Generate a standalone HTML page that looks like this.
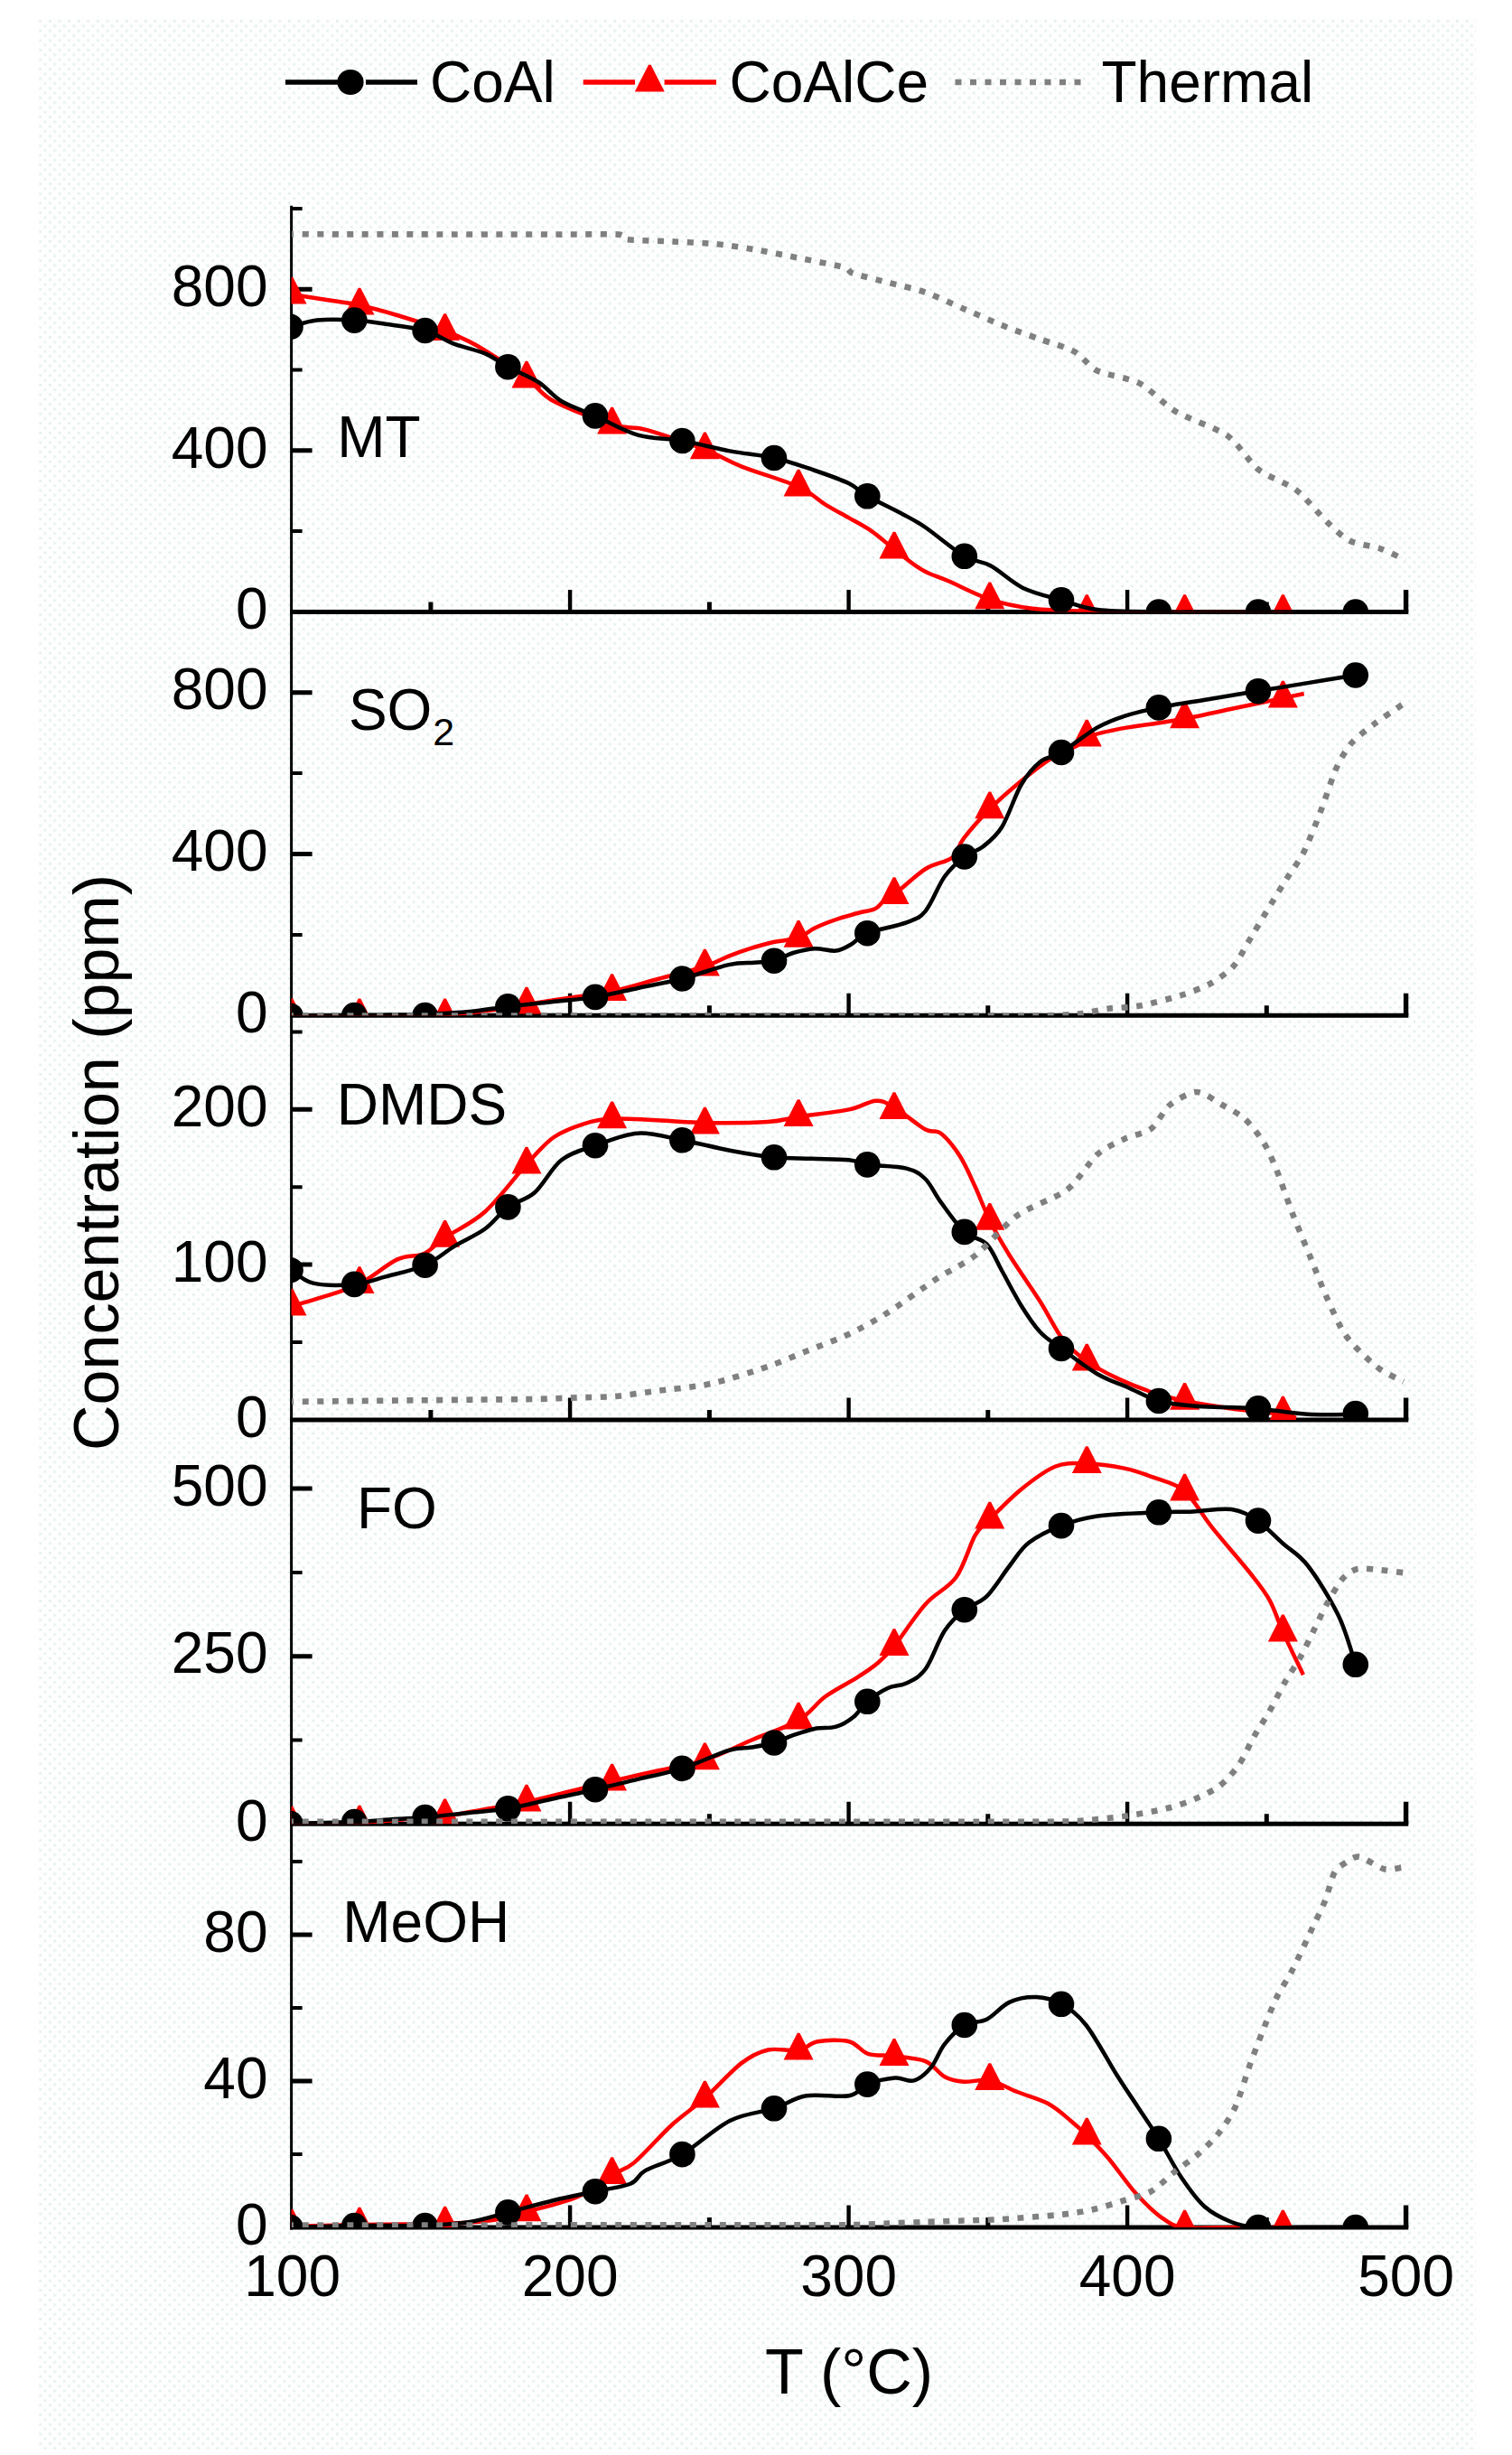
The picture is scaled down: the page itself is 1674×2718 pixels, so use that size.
<!DOCTYPE html>
<html lang="en"><head><meta charset="utf-8"><title>Concentration vs T</title>
<style>html,body{margin:0;padding:0;background:#fff}svg{display:block}text{font-family:"Liberation Sans", Arial, sans-serif;fill:#000}</style></head><body>
<svg width="1674" height="2718" viewBox="0 0 1674 2718">
<rect width="1674" height="2718" fill="#fff"/>
<defs><pattern id="dz" width="10.6" height="10.6" patternUnits="userSpaceOnUse"><rect width="10.6" height="10.6" fill="#fefefe"/><rect x="1" y="1" width="2.6" height="2.6" fill="#e3efef"/><rect x="6.3" y="6.3" width="2.6" height="2.6" fill="#e3efef"/></pattern></defs>
<rect x="42" y="20" width="1592" height="2692" fill="url(#dz)"/>
<defs>
<clipPath id="c1"><rect x="322.6" y="190.2" width="1264" height="487.2"/></clipPath>
<clipPath id="c2"><rect x="322.6" y="677.4" width="1264" height="446.9"/></clipPath>
<clipPath id="c3"><rect x="322.6" y="1124.3" width="1264" height="447.6"/></clipPath>
<clipPath id="c4"><rect x="322.6" y="1571.9" width="1264" height="447.4"/></clipPath>
<clipPath id="c5"><rect x="322.6" y="2019.3" width="1264" height="446.6"/></clipPath>
</defs>
<g stroke="#000" fill="none">
<path d="M322.6 227.7V2468.4" stroke-width="3"/>
<path d="M321.1 677.4H1559.3M321.1 1124.3H1559.3M321.1 1571.9H1559.3M321.1 2019.3H1559.3M321.1 2465.9H1559.3" stroke-width="5"/>
<path d="M631.1 677.4V652.9M939.6 677.4V652.9M1248.1 677.4V652.9M631.1 1124.3V1099.8M939.6 1124.3V1099.8M1248.1 1124.3V1099.8M631.1 1571.9V1547.4M939.6 1571.9V1547.4M1248.1 1571.9V1547.4M631.1 2019.3V1994.8M939.6 2019.3V1994.8M1248.1 2019.3V1994.8M631.1 2465.9V2441.4M939.6 2465.9V2441.4M1248.1 2465.9V2441.4" stroke-width="4.4"/>
<path d="M476.9 677.4V666.4M785.4 677.4V666.4M1093.8 677.4V666.4M1402.3 677.4V666.4M476.9 1124.3V1113.3M785.4 1124.3V1113.3M1093.8 1124.3V1113.3M1402.3 1124.3V1113.3M476.9 1571.9V1560.9M785.4 1571.9V1560.9M1093.8 1571.9V1560.9M1402.3 1571.9V1560.9M476.9 2019.3V2008.3M785.4 2019.3V2008.3M1093.8 2019.3V2008.3M1402.3 2019.3V2008.3M476.9 2465.9V2454.9M785.4 2465.9V2454.9M1093.8 2465.9V2454.9M1402.3 2465.9V2454.9" stroke-width="5"/>
<path d="M1556.6 677.4V652.9M1556.6 1124.3V1099.8M1556.6 1571.9V1547.4M1556.6 2019.3V1994.8M1556.6 2465.9V2441.4" stroke-width="5.4"/>
<path d="M322.6 498.8H345.6M322.6 320.2H345.6M322.6 945.5H345.6M322.6 766.7H345.6M322.6 1400.1H345.6M322.6 1228.3H345.6M322.6 1833.7H345.6M322.6 1648.1H345.6M322.6 2303.9H345.6M322.6 2141.9H345.6" stroke-width="5"/>
<path d="M322.6 588.1H334.6M322.6 409.5H334.6M322.6 230.9H334.6M322.6 1034.9H334.6M322.6 856.1H334.6M322.6 1486H334.6M322.6 1314.2H334.6M322.6 1142.4H334.6M322.6 1926.5H334.6M322.6 1740.9H334.6M322.6 2384.9H334.6M322.6 2222.9H334.6M322.6 2060.9H334.6" stroke-width="4"/>
</g>
<g clip-path="url(#c1)">
<path d="M323 326C328.3 326.8 342.5 329 355 331C367.5 333 383.9 335 398 338C412.1 341 423.9 344.2 439.7 349C455.5 353.8 477.8 360.8 492.6 366.5C507.4 372.2 513.5 374.2 528.6 383C543.7 391.8 568.9 408.8 583 419C597.1 429.2 597.4 435.8 613.2 444.3C629 452.8 662.1 465.1 677.6 470C693.1 474.9 698.7 472.6 706.3 474C713.9 475.4 710.9 474.2 723.3 478.2C735.6 482.1 764.2 491.4 780.4 497.7C796.6 504 803.3 509.4 820.6 516.3C837.9 523.2 868.6 532 884.1 539C899.6 546 904.5 552.9 913.8 558.6C923.1 564.3 931.4 568.5 940 573.4C948.6 578.3 957.1 582.5 965.4 588.3C973.7 594.1 980.8 601 990 608C999.2 615 1010.4 624.7 1020.4 630.6C1030.4 636.5 1037.4 637.8 1050 643.3C1062.6 648.8 1080.3 658.5 1095.8 663.6C1111.3 668.7 1126.6 671.6 1143 673.8C1159.4 675.9 1184 675.9 1194 676.5C1204 677.1 1192.7 677.3 1203.3 677.5C1213.9 677.7 1239.4 677.5 1257.4 677.5C1275.5 677.5 1293.5 677.5 1311.6 677.5C1329.7 677.5 1347.9 677.5 1366 677.5C1384.1 677.5 1411.3 677.5 1420.4 677.5" fill="none" stroke="#f00" stroke-width="4.5" stroke-linejoin="round"/>
<g fill="#f00"><path d="M321.7 306.8H324.3L339.5 336.6H306.5Z"/><path d="M396.7 318.8H399.3L414.5 348.6H381.5Z"/><path d="M491.3 347.3H493.9L509.1 377.1H476.1Z"/><path d="M581.7 399.8H584.3L599.5 429.6H566.5Z"/><path d="M676.3 450.8H678.9L694.1 480.6H661.1Z"/><path d="M779.1 478.5H781.7L796.9 508.3H763.9Z"/><path d="M882.8 519.8H885.4L900.6 549.6H867.6Z"/><path d="M988.7 588.8H991.3L1006.5 618.6H973.5Z"/><path d="M1094.5 644.4H1097.1L1112.3 674.2H1079.3Z"/><path d="M1202 658.3H1204.6L1219.8 688.1H1186.8Z"/><path d="M1310.3 658.3H1312.9L1328.1 688.1H1295.1Z"/><path d="M1419.1 658.3H1421.7L1436.9 688.1H1403.9Z"/></g>
<path d="M323 361.8C327.6 360.6 339.2 355.8 350.8 354.6C362.4 353.4 379.6 353.9 392.3 354.6C405 355.3 413.9 356.9 427 358.8C440.1 360.7 457.9 362.3 470.6 366C483.3 369.7 492.1 376.6 503.2 380.8C514.3 385 527.1 387.2 537 391.4C546.9 395.6 552.5 400.9 562.4 406.2C572.3 411.5 586.4 416.8 596.3 423.2C606.2 429.6 611.2 438.1 621.7 444.3C632.2 450.5 644.9 454.2 659 460.4C673.1 466.6 690.2 477 706.3 481.6C722.4 486.2 738.4 485 755.4 488C772.4 491 791.1 496.2 808 499.4C824.9 502.6 841.5 503.5 857 507C872.5 510.5 887.2 515.8 901 520.5C914.8 525.2 930.1 530.5 940 535.3C949.9 540.1 950.4 543.6 960.3 549.3C970.2 554.9 988.6 563.4 999.3 569.2C1010 575 1013.3 576.2 1024.7 584C1036.1 591.8 1055.8 608.8 1067.8 615.8C1079.8 622.8 1085.8 620.4 1096.6 626.3C1107.4 632.1 1119.5 644.5 1132.6 650.9C1145.7 657.2 1161.3 660.4 1175 664.4C1188.7 668.4 1197 672.8 1215 675C1233 677.2 1262.5 677.1 1282.9 677.5C1303.3 677.9 1319.3 677.5 1337.5 677.5C1355.6 677.5 1373.8 677.5 1392 677.5C1410.2 677.5 1428.3 677.5 1446.4 677.5C1464.5 677.5 1491.7 677.5 1500.8 677.5" fill="none" stroke="#000" stroke-width="4.5" stroke-linejoin="round"/>
<g fill="#000"><ellipse cx="321.5" cy="361.8" rx="14.3" ry="14.3"/><ellipse cx="392.3" cy="354.6" rx="14.3" ry="14.3"/><ellipse cx="470.6" cy="366" rx="14.3" ry="14.3"/><ellipse cx="562.4" cy="406.2" rx="14.3" ry="14.3"/><ellipse cx="659" cy="460.4" rx="14.3" ry="14.3"/><ellipse cx="755.4" cy="488" rx="14.3" ry="14.3"/><ellipse cx="857" cy="507" rx="14.3" ry="14.3"/><ellipse cx="960.3" cy="549.3" rx="14.3" ry="14.3"/><ellipse cx="1067.8" cy="615.8" rx="14.3" ry="14.3"/><ellipse cx="1175" cy="664.4" rx="14.3" ry="14.3"/><ellipse cx="1282.9" cy="677.5" rx="14.3" ry="14.3"/><ellipse cx="1393" cy="677.5" rx="14.3" ry="14.3"/><ellipse cx="1500.8" cy="677.5" rx="14.3" ry="14.3"/></g>
<path d="M323 259.3C331 259.3 367.2 259.3 383.3 259.4C399.4 259.4 427.6 259.4 443.7 259.4C459.8 259.4 487.9 259.4 504 259.5C520.1 259.5 548.2 259.5 564.3 259.5C580.4 259.5 608.6 259.5 624.7 259.6C640.8 259.6 675.8 258.8 685 259.6C694.2 260.4 685.7 264.2 693.6 265.2C701.5 266.2 731.4 266.8 744.4 267.4C757.4 268 779.1 268.9 791 270C802.9 271.1 820.9 273.8 833.3 275.9C845.7 278 870.4 282.9 884 285.6C897.6 288.3 927 293.9 935 296.2C943 298.5 937.4 300.2 944 302.5C950.6 304.8 973.6 310.3 984.4 313.1C995.1 315.9 1013.4 319.7 1024.7 323.7C1036 327.7 1057.3 337.7 1069.1 342.8C1080.9 347.8 1102.5 357.4 1113.5 361.8C1124.5 366.2 1141.4 371.9 1151.6 375.6C1161.8 379.2 1181.2 384.6 1189.7 389.3C1198.2 394 1205.4 405.8 1215 410.5C1224.6 415.2 1250.1 418.4 1261.7 424.4C1273.3 430.4 1289 448.1 1302 455.8C1315 463.5 1346.9 473.9 1359 482.4C1371.1 490.9 1382.9 511.7 1393 519.7C1403.1 527.7 1424.9 534.8 1435 542.5C1445.1 550.2 1461.1 570.2 1469 577.7C1476.9 585.2 1486.6 594.9 1494.5 598.8C1502.4 602.7 1519.8 604.5 1528 607.3C1536.2 610.1 1552.3 618.3 1556 620" fill="none" stroke="#808080" stroke-width="6.6" stroke-dasharray="7 9.5" stroke-dashoffset="4.7"/>
</g>
<g clip-path="url(#c2)">
<path d="M323 1124.7C329.2 1124.7 348 1124.7 360.5 1124.7C373 1124.7 383.9 1124.8 398 1124.7C412.1 1124.6 429.5 1124.3 445.3 1124.1C461.1 1123.9 476.8 1124.3 492.6 1123.5C508.4 1122.7 524.9 1120.9 540 1119C555.1 1117.1 568 1114.4 583 1112C598 1109.6 614.5 1107.2 630.3 1104.8C646.1 1102.3 661.1 1101 677.6 1097.5C694.1 1094 711.9 1088.3 729 1083.8C746.1 1079.2 767.4 1074.2 780.4 1070C793.4 1065.8 798.4 1061.9 806.7 1058.6C815.1 1055.3 822.6 1052.7 830.5 1050.2C838.4 1047.7 845.4 1045.5 854.3 1043.5C863.2 1041.5 876.2 1040.9 884.1 1038.2C892 1035.5 895 1031 901.9 1027.6C908.8 1024.2 917.8 1020.8 925.7 1018C933.6 1015.2 942.4 1013 949.5 1011C956.6 1009 963.9 1008.4 968.6 1006.2C973.4 1004 974.4 1000.6 978 998C981.6 995.4 982.2 996.4 990 990.4C997.8 984.4 1014 968.8 1024.7 962C1035.4 955.2 1047.2 955 1054.3 949.4C1061.3 943.8 1060.1 937.2 1067 928.2C1073.9 919.2 1085.2 906.2 1095.8 895.6C1106.4 885 1119.1 874.1 1130.5 864.7C1141.9 855.3 1153.7 846 1164.3 839.3C1174.9 832.6 1187.5 828.4 1194 824.5C1200.5 820.6 1196.2 818.8 1203.3 816C1210.3 813.2 1224.5 810 1236.3 807.6C1248.1 805.2 1261.4 803.6 1273.9 801.7C1286.5 799.7 1296.3 798.6 1311.6 795.7C1326.9 792.8 1347.9 788.1 1366 784.3C1384.1 780.5 1407.5 775.6 1420.4 772.9C1433.4 770.2 1439.8 768.8 1443.7 768" fill="none" stroke="#f00" stroke-width="4.5" stroke-linejoin="round"/>
<g fill="#f00"><path d="M321.7 1105.5H324.3L339.5 1135.3H306.5Z"/><path d="M396.7 1105.5H399.3L414.5 1135.3H381.5Z"/><path d="M491.3 1105.5H493.9L509.1 1135.3H476.1Z"/><path d="M581.7 1092.8H584.3L599.5 1122.6H566.5Z"/><path d="M676.3 1078.3H678.9L694.1 1108.1H661.1Z"/><path d="M779.1 1050.8H781.7L796.9 1080.6H763.9Z"/><path d="M882.8 1019H885.4L900.6 1048.8H867.6Z"/><path d="M988.7 971.2H991.3L1006.5 1001H973.5Z"/><path d="M1094.5 876.4H1097.1L1112.3 906.2H1079.3Z"/><path d="M1202 796.8H1204.6L1219.8 826.6H1186.8Z"/><path d="M1310.3 776.5H1312.9L1328.1 806.3H1295.1Z"/><path d="M1419.1 753.7H1421.7L1436.9 783.5H1403.9Z"/></g>
<path d="M323 1124.7C334.6 1124.6 374.2 1124.2 392.3 1124C410.4 1123.8 418.4 1123.7 431.5 1123.5C444.5 1123.3 455.8 1123.6 470.6 1123C485.4 1122.4 504.7 1121.4 520 1120C535.3 1118.6 547.3 1116.2 562.4 1114.4C577.5 1112.6 594.6 1110.9 610.7 1109.2C626.8 1107.4 642.9 1106.5 659 1103.9C675.1 1101.3 691.1 1097.1 707.2 1093.7C723.3 1090.3 738.8 1087.8 755.4 1083.5C772 1079.2 793.4 1071.1 806.7 1068.1C820 1065.1 826.6 1066.4 835 1065.7C843.4 1065 849.8 1065.5 857 1063.7C864.2 1061.9 870.5 1057.2 878 1055C885.5 1052.8 893.9 1050.6 901.9 1050.2C909.9 1049.8 919 1053.4 925.7 1052.6C932.5 1051.8 936.6 1048.7 942.4 1045.5C948.2 1042.3 950.1 1037.2 960.3 1033.2C970.5 1029.2 992.8 1025.4 1003.5 1021.3C1014.2 1017.2 1017.7 1017.1 1024.7 1008.6C1031.8 1000.1 1038.6 980.5 1045.8 970.5C1053 960.5 1060.8 954 1067.8 948.5C1074.8 943 1081.1 943 1088 937.5C1094.9 932 1102.2 926.9 1109.3 915.5C1116.4 904.1 1123.5 881 1130.5 869C1137.5 857 1144.2 849.5 1151.6 843.5C1159 837.5 1164.4 839.4 1175 833C1185.6 826.6 1203.4 812.1 1215 805.4C1226.6 798.7 1233.5 796.5 1244.8 792.8C1256.1 789.1 1267.5 786.5 1282.9 783.4C1298.3 780.3 1319.3 777.3 1337.5 774.3C1355.6 771.3 1373.8 768.2 1392 765.2C1410.2 762.2 1428.3 759.3 1446.4 756.4C1464.5 753.4 1491.7 749 1500.8 747.5" fill="none" stroke="#000" stroke-width="4.5" stroke-linejoin="round"/>
<g fill="#000"><ellipse cx="321.5" cy="1124.7" rx="14.3" ry="14.3"/><ellipse cx="392.3" cy="1124" rx="14.3" ry="14.3"/><ellipse cx="470.6" cy="1124" rx="14.3" ry="14.3"/><ellipse cx="562.4" cy="1114.4" rx="14.3" ry="14.3"/><ellipse cx="659" cy="1103.9" rx="14.3" ry="14.3"/><ellipse cx="755.4" cy="1083.5" rx="14.3" ry="14.3"/><ellipse cx="857" cy="1063.7" rx="14.3" ry="14.3"/><ellipse cx="960.3" cy="1033.2" rx="14.3" ry="14.3"/><ellipse cx="1067.8" cy="948.5" rx="14.3" ry="14.3"/><ellipse cx="1175" cy="833" rx="14.3" ry="14.3"/><ellipse cx="1282.9" cy="783.4" rx="14.3" ry="14.3"/><ellipse cx="1393" cy="765.2" rx="14.3" ry="14.3"/><ellipse cx="1500.8" cy="747.5" rx="14.3" ry="14.3"/></g>
<path d="M323 1124.6C332.2 1124.6 373.5 1124.6 391.9 1124.6C410.3 1124.6 442.5 1124.6 460.8 1124.6C479.2 1124.6 511.4 1124.6 529.8 1124.6C548.1 1124.6 580.3 1124.6 598.7 1124.6C617 1124.6 649.2 1124.6 667.6 1124.6C686 1124.6 718.1 1124.6 736.5 1124.6C754.9 1124.6 787 1124.6 805.4 1124.6C823.8 1124.6 856 1124.6 874.3 1124.6C892.7 1124.6 924.9 1124.6 943.2 1124.6C961.6 1124.6 993.8 1124.6 1012.2 1124.6C1030.5 1124.6 1062.7 1124.6 1081.1 1124.6C1099.5 1124.6 1134.9 1124.9 1150 1124.6C1165.1 1124.3 1183.6 1123.6 1194 1122.5C1204.4 1121.4 1218.8 1117.8 1227.8 1116.6C1236.8 1115.4 1251 1115.6 1261.7 1113.6C1272.4 1111.6 1297.9 1105 1308.3 1101.7C1318.7 1098.4 1332.4 1093.2 1340 1089C1347.6 1084.8 1359.8 1076.2 1365.4 1070C1371 1063.8 1376.7 1051.8 1382.3 1042.5C1387.9 1033.2 1402 1009.3 1407.7 1000C1413.4 990.7 1419.9 980.2 1424.7 972.6C1429.5 965 1438.6 953.1 1443.7 943C1448.8 932.9 1458 908.9 1462.8 896.5C1467.6 884.1 1475.2 859.9 1479.7 850C1484.2 840.1 1491 828.9 1496.6 822.4C1502.2 815.9 1514.9 806.6 1522 801.2C1529.1 795.8 1545 785.3 1549.5 782.2C1554 779.1 1555.1 778.6 1556 778" fill="none" stroke="#808080" stroke-width="6.6" stroke-dasharray="7 9.5" stroke-dashoffset="4.7"/>
</g>
<g clip-path="url(#c3)">
<path d="M323 1446C328.3 1444.5 342.3 1440.8 354.8 1436.7C367.3 1432.6 383.9 1428.5 398 1421.5C412.1 1414.5 427.8 1400 439.7 1394.4C451.6 1388.8 460.5 1392 469.3 1388C478.1 1384 481.3 1378 492.6 1370.2C503.9 1362.5 521.9 1355 537 1341.5C552.1 1328 570.3 1302.8 583 1289C595.7 1275.2 602.5 1266.5 613.2 1259C623.9 1251.5 636.3 1247.5 647 1244.1C657.7 1240.7 664.9 1239.3 677.6 1238.6C690.3 1237.9 706.2 1239.2 723.3 1239.9C740.4 1240.6 759.2 1242.7 780.4 1243C801.6 1243.3 833 1243.1 850.3 1242C867.6 1240.9 869.1 1238.8 884.1 1236.5C899.1 1234.2 925.8 1231.4 940 1228.4C954.2 1225.4 961.3 1219.1 969.6 1218.7C977.9 1218.3 980.8 1220.7 990 1226C999.2 1231.3 1016.1 1245.7 1024.7 1250.5C1033.3 1255.3 1035.2 1249.8 1041.6 1254.7C1047.9 1259.6 1056.4 1270.1 1062.8 1280C1069.2 1289.9 1074.2 1302.1 1079.7 1314C1085.2 1325.9 1089.5 1338.5 1095.8 1351.2C1102.1 1363.9 1108.5 1375 1117.8 1390C1127.1 1405 1141.7 1425.5 1151.6 1441C1161.5 1456.5 1168.4 1472.3 1177 1483.3C1185.6 1494.3 1193.4 1500 1203.3 1507C1213.2 1514 1223.8 1519.7 1236.3 1525.6C1248.8 1531.5 1266 1538.3 1278.6 1542.5C1291.1 1546.7 1297.5 1548.2 1311.6 1551C1325.7 1553.8 1345.2 1556.9 1363.3 1559.4C1381.4 1561.9 1408.5 1564 1420.4 1565.8C1432.4 1567.6 1432.6 1569.3 1435 1570" fill="none" stroke="#f00" stroke-width="4.5" stroke-linejoin="round"/>
<g fill="#f00"><path d="M321.7 1426.8H324.3L339.5 1456.6H306.5Z"/><path d="M396.7 1402.3H399.3L414.5 1432.1H381.5Z"/><path d="M491.3 1351H493.9L509.1 1380.8H476.1Z"/><path d="M581.7 1269.8H584.3L599.5 1299.6H566.5Z"/><path d="M676.3 1219.4H678.9L694.1 1249.2H661.1Z"/><path d="M779.1 1225.8H781.7L796.9 1255.6H763.9Z"/><path d="M882.8 1217.3H885.4L900.6 1247.1H867.6Z"/><path d="M988.7 1209.2H991.3L1006.5 1239H973.5Z"/><path d="M1094.5 1332H1097.1L1112.3 1361.8H1079.3Z"/><path d="M1202 1487.8H1204.6L1219.8 1517.6H1186.8Z"/><path d="M1310.3 1530.9H1312.9L1328.1 1560.7H1295.1Z"/><path d="M1419.1 1545.8H1421.7L1436.9 1575.6H1403.9Z"/></g>
<path d="M323 1406.2C326.9 1408.6 335.1 1418 346.6 1420.6C358.2 1423.2 378.9 1423.1 392.3 1421.9C405.7 1420.7 413.9 1416.9 427 1413.4C440.1 1409.9 457.9 1406.3 470.6 1400.7C483.3 1395.1 492.1 1386.3 503.2 1379.6C514.3 1372.9 527.1 1367.7 537 1360.5C546.9 1353.3 553.2 1343.1 562.4 1336.4C571.6 1329.7 582.1 1329 592 1320.3C601.9 1311.6 610.5 1293 621.7 1284.3C632.9 1275.6 644.9 1273.1 659 1268.2C673.1 1263.3 690.2 1255.7 706.3 1254.7C722.4 1253.7 738.4 1259.1 755.4 1262.3C772.4 1265.5 791.1 1270.5 808 1273.7C824.9 1276.9 841.9 1279.8 857 1281.3C872.1 1282.8 884.7 1282.3 898.5 1282.8C912.3 1283.3 929.7 1283.2 940 1284.3C950.3 1285.4 949.7 1287.9 960.3 1289.4C970.9 1291 992.8 1290.9 1003.5 1293.6C1014.2 1296.3 1018.4 1299.3 1024.7 1305.5C1031 1311.7 1034.4 1321.2 1041.6 1330.9C1048.8 1340.6 1059.3 1356.2 1067.8 1363.9C1076.3 1371.7 1085.5 1370.2 1092.4 1377.4C1099.3 1384.6 1103 1395.7 1109.3 1407C1115.6 1418.3 1123.5 1433.9 1130.5 1445.2C1137.5 1456.5 1144.2 1466.8 1151.6 1474.8C1159 1482.8 1164.4 1485.2 1175 1493C1185.6 1500.8 1202.7 1514.1 1215 1521.3C1227.3 1528.5 1237.6 1531.2 1249 1536.2C1260.3 1541.1 1270.9 1547.6 1282.9 1551C1294.9 1554.4 1308.7 1555.3 1321 1556.5C1333.3 1557.7 1344.7 1557.5 1356.5 1558C1368.3 1558.4 1376.8 1558.1 1392 1559.4C1407.2 1560.7 1429.9 1564.7 1448 1565.8C1466.1 1566.9 1492 1565.8 1500.8 1565.8" fill="none" stroke="#000" stroke-width="4.5" stroke-linejoin="round"/>
<g fill="#000"><ellipse cx="321.5" cy="1406.2" rx="14.3" ry="14.3"/><ellipse cx="392.3" cy="1421.9" rx="14.3" ry="14.3"/><ellipse cx="470.6" cy="1400.7" rx="14.3" ry="14.3"/><ellipse cx="562.4" cy="1336.4" rx="14.3" ry="14.3"/><ellipse cx="659" cy="1268.2" rx="14.3" ry="14.3"/><ellipse cx="755.4" cy="1262.3" rx="14.3" ry="14.3"/><ellipse cx="857" cy="1281.3" rx="14.3" ry="14.3"/><ellipse cx="960.3" cy="1289.4" rx="14.3" ry="14.3"/><ellipse cx="1067.8" cy="1363.9" rx="14.3" ry="14.3"/><ellipse cx="1175" cy="1493" rx="14.3" ry="14.3"/><ellipse cx="1282.9" cy="1551" rx="14.3" ry="14.3"/><ellipse cx="1393" cy="1559.4" rx="14.3" ry="14.3"/><ellipse cx="1500.8" cy="1565" rx="14.3" ry="14.3"/></g>
<path d="M323 1551.8C332.1 1551.7 373.1 1551.3 391.3 1551.1C409.5 1550.9 441.4 1550.5 459.6 1550.3C477.9 1550.2 509.8 1549.8 528 1549.6C546.2 1549.4 581.5 1549.2 596.3 1548.9C611.1 1548.6 627.4 1547.8 638.6 1547.4C649.9 1547 669.7 1546.8 681 1545.9C692.3 1545 709.2 1542.3 723.3 1540.4C737.4 1538.5 769.9 1535.7 786.8 1532C803.7 1528.3 836.2 1517.7 850.3 1512.9C864.4 1508.1 880.6 1500.8 892.6 1496C904.6 1491.2 928 1482.7 940 1477C952 1471.3 969.3 1461.8 982.3 1453.6C995.3 1445.4 1024.4 1424 1037.4 1415.5C1050.4 1407 1067.9 1399.3 1079.7 1390C1091.5 1380.7 1112.7 1355.4 1126.2 1345.7C1139.7 1336 1169.5 1326.3 1181.3 1317.3C1193.1 1308.3 1206.5 1285.5 1215 1278C1223.5 1270.5 1236.9 1264.8 1244.8 1261C1252.7 1257.2 1267.6 1254.7 1274.4 1249.6C1281.2 1244.5 1288.8 1228.4 1295.6 1223C1302.4 1217.6 1317.6 1209 1325.2 1209C1332.8 1209 1345.7 1219.1 1352.7 1223C1359.7 1226.9 1371.8 1233 1378 1238.6C1384.2 1244.2 1394.5 1257.5 1399.3 1265.3C1404.1 1273.1 1409.8 1286.6 1414 1297C1418.2 1307.4 1426.2 1331.2 1431 1343.6C1435.8 1356 1444.9 1377.6 1450 1390C1455.1 1402.4 1463.6 1424.8 1469 1436.7C1474.4 1448.6 1483 1468.8 1490.3 1479C1497.6 1489.2 1515.5 1506.2 1524 1513C1532.5 1519.8 1549.8 1527.6 1553.8 1529.8" fill="none" stroke="#808080" stroke-width="6.6" stroke-dasharray="7 9.5" stroke-dashoffset="4.7"/>
</g>
<g clip-path="url(#c4)">
<path d="M323 2019C329.2 2018.9 348 2018.7 360.5 2018.5C373 2018.3 383.9 2018.7 398 2018C412.1 2017.3 429.5 2015.6 445.3 2014.4C461.1 2013.2 477.2 2012.7 492.6 2010.8C508 2008.9 522.7 2005.5 537.8 2002.9C552.9 2000.3 567.6 1998.2 583 1995C598.4 1991.8 614.5 1987.3 630.3 1983.5C646.1 1979.6 661.1 1975.8 677.6 1971.9C694.1 1968 711.9 1964.1 729 1960.2C746.1 1956.4 763.2 1954.2 780.4 1948.6C797.6 1943 815 1933.9 832.2 1926.5C849.5 1919.2 870.5 1912.5 884.1 1904.5C897.7 1896.5 902.9 1886.2 913.8 1878.3C924.7 1870.4 939.8 1863.1 949.5 1856.9C959.2 1850.7 965.2 1846.8 972 1841C978.8 1835.2 981.2 1833.2 990 1822.4C998.8 1811.6 1013.3 1788.6 1024.7 1775.9C1036.1 1763.2 1049.3 1758.9 1058.5 1746.2C1067.7 1733.5 1073.5 1710.4 1079.7 1699.7C1085.9 1689 1087.3 1690.5 1095.8 1682C1104.3 1673.5 1118.4 1658.7 1130.5 1648.9C1142.6 1639.2 1156.5 1628.2 1168.6 1623.5C1180.7 1618.8 1190.6 1620.2 1203.3 1620.5C1216 1620.8 1232.2 1623 1244.8 1625.6C1257.3 1628.2 1267.5 1632 1278.6 1636.2C1289.7 1640.4 1301 1641.8 1311.6 1651C1322.2 1660.2 1329.9 1676 1342 1691.2C1354.1 1706.4 1373.8 1728.6 1384.4 1742C1395 1755.4 1399.6 1760.8 1405.6 1771.6C1411.6 1782.4 1414.2 1793 1420.4 1806.8C1426.6 1820.6 1439.2 1846.3 1442.9 1854.2" fill="none" stroke="#f00" stroke-width="4.5" stroke-linejoin="round"/>
<g fill="#f00"><path d="M321.7 1999.8H324.3L339.5 2029.6H306.5Z"/><path d="M396.7 1998.8H399.3L414.5 2028.6H381.5Z"/><path d="M491.3 1991.6H493.9L509.1 2021.4H476.1Z"/><path d="M581.7 1975.8H584.3L599.5 2005.6H566.5Z"/><path d="M676.3 1952.7H678.9L694.1 1982.5H661.1Z"/><path d="M779.1 1929.4H781.7L796.9 1959.2H763.9Z"/><path d="M882.8 1884.8H885.4L900.6 1914.6H867.6Z"/><path d="M988.7 1803.2H991.3L1006.5 1833H973.5Z"/><path d="M1094.5 1662.8H1097.1L1112.3 1692.6H1079.3Z"/><path d="M1202 1601.3H1204.6L1219.8 1631.1H1186.8Z"/><path d="M1310.3 1631.8H1312.9L1328.1 1661.6H1295.1Z"/><path d="M1419.1 1787.6H1421.7L1436.9 1817.4H1403.9Z"/></g>
<path d="M323 2019C334.6 2018.7 374.2 2017.8 392.3 2017C410.4 2016.2 418.4 2015.3 431.5 2014.5C444.5 2013.7 456.4 2013.2 470.6 2012C484.8 2010.8 501.2 2008.8 516.5 2007.2C531.8 2005.5 546.7 2004.9 562.4 2002.3C578.1 1999.7 594.6 1995.3 610.7 1991.8C626.8 1988.2 642.9 1984.9 659 1981.2C675.1 1977.5 691.1 1973.4 707.2 1969.6C723.3 1965.7 738.8 1963.2 755.4 1957.9C772 1952.6 793.9 1941.8 806.7 1937.9C819.5 1934 823.6 1935.9 832 1934.5C840.4 1933.1 849.3 1931.7 857 1929.5C864.7 1927.3 870.5 1923.8 878 1921.2C885.5 1918.6 893.9 1915.6 901.9 1914C909.9 1912.4 918.6 1913.9 925.7 1911.7C932.9 1909.5 939 1905.7 944.8 1901C950.6 1896.3 953.9 1889.1 960.3 1883.8C966.6 1878.5 975.7 1872.4 982.9 1869C990.1 1865.6 996.5 1867 1003.5 1863.5C1010.5 1860 1017.7 1857.5 1024.7 1847.8C1031.8 1838.1 1038.6 1816.4 1045.8 1805.5C1053 1794.6 1060 1788.5 1067.8 1782.2C1075.6 1775.9 1084.1 1775.5 1092.4 1767.4C1100.7 1759.3 1110 1743.4 1117.8 1733.5C1125.6 1723.6 1129.5 1715.4 1139 1708C1148.5 1700.6 1162.3 1694 1175 1689.1C1187.7 1684.2 1197 1681 1215 1678.5C1233 1676 1265.2 1675.1 1282.9 1674.3C1300.6 1673.5 1307.6 1674 1321 1673.4C1334.4 1672.9 1351.5 1669.3 1363.3 1671C1375.1 1672.7 1382.5 1677.3 1392 1683.6C1401.5 1689.9 1410.7 1700.2 1420 1708.5C1429.3 1716.9 1437.7 1720.2 1448 1733.5C1458.3 1746.8 1473 1770.4 1481.8 1788.6C1490.6 1806.8 1497.6 1833.8 1500.8 1842.8" fill="none" stroke="#000" stroke-width="4.5" stroke-linejoin="round"/>
<g fill="#000"><ellipse cx="321.5" cy="2019" rx="14.3" ry="14.3"/><ellipse cx="392.3" cy="2017" rx="14.3" ry="14.3"/><ellipse cx="470.6" cy="2012" rx="14.3" ry="14.3"/><ellipse cx="562.4" cy="2002.3" rx="14.3" ry="14.3"/><ellipse cx="659" cy="1981.2" rx="14.3" ry="14.3"/><ellipse cx="755.4" cy="1957.9" rx="14.3" ry="14.3"/><ellipse cx="857" cy="1929.5" rx="14.3" ry="14.3"/><ellipse cx="960.3" cy="1883.8" rx="14.3" ry="14.3"/><ellipse cx="1067.8" cy="1782.2" rx="14.3" ry="14.3"/><ellipse cx="1175" cy="1689.1" rx="14.3" ry="14.3"/><ellipse cx="1282.9" cy="1674.3" rx="14.3" ry="14.3"/><ellipse cx="1393" cy="1683.6" rx="14.3" ry="14.3"/><ellipse cx="1500.8" cy="1842.8" rx="14.3" ry="14.3"/></g>
<path d="M323 2016.8C332.2 2016.8 373.5 2016.8 391.9 2016.8C410.3 2016.8 442.5 2016.8 460.8 2016.8C479.2 2016.8 511.4 2016.8 529.8 2016.8C548.1 2016.8 580.3 2016.8 598.7 2016.8C617 2016.8 649.2 2016.8 667.6 2016.8C686 2016.8 718.1 2016.8 736.5 2016.8C754.9 2016.8 787 2016.8 805.4 2016.8C823.8 2016.8 856 2016.8 874.3 2016.8C892.7 2016.8 924.9 2016.8 943.2 2016.8C961.6 2016.8 993.8 2016.8 1012.2 2016.8C1030.5 2016.8 1062.7 2016.8 1081.1 2016.8C1099.5 2016.8 1134.9 2016.9 1150 2016.8C1165.1 2016.7 1181.4 2016.8 1194 2016C1206.6 2015.2 1231.8 2012.6 1244.8 2010.8C1257.8 2009 1280.9 2004.8 1291.3 2002.3C1301.7 1999.8 1315.1 1995.1 1323 1991.7C1330.9 1988.3 1344.1 1982.1 1350.6 1977C1357.1 1971.9 1366.6 1961 1371.7 1953.7C1376.8 1946.4 1384.2 1929.9 1388.7 1922C1393.2 1914.1 1401.1 1902.3 1405.6 1894.4C1410.1 1886.5 1418 1870.5 1422.5 1862.6C1427 1854.7 1435.3 1842.6 1439.5 1835C1443.7 1827.4 1450.4 1813.4 1454.3 1805.5C1458.2 1797.6 1464.8 1783.5 1469 1775.9C1473.2 1768.3 1481.5 1753.6 1486 1748.4C1490.5 1743.2 1496.8 1738.3 1503 1737C1509.2 1735.7 1525.8 1738 1532.6 1738.6C1539.4 1739.2 1551 1740.9 1553.8 1741.2" fill="none" stroke="#808080" stroke-width="6.6" stroke-dasharray="7 9.5" stroke-dashoffset="4.7"/>
</g>
<g clip-path="url(#c5)">
<path d="M323 2465C329.2 2464.8 348 2464.3 360.5 2464C373 2463.7 383.9 2463.2 398 2463C412.1 2462.8 429.5 2462.7 445.3 2462.5C461.1 2462.3 475.9 2462.8 492.6 2462C509.3 2461.2 530.4 2460.2 545.5 2458C560.6 2455.8 567.5 2452.8 583 2448.6C598.5 2444.3 622.8 2439.3 638.6 2432.5C654.4 2425.7 667 2413.8 677.6 2407.5C688.2 2401.2 690.9 2403.7 702 2394.4C713.1 2385.2 731.3 2363.9 744.4 2352C757.5 2340.1 767.7 2334.2 780.4 2322.9C793.1 2311.6 809 2293.3 820.6 2284.4C832.2 2275.5 839.7 2271.9 850.3 2269.5C860.9 2267.1 874.9 2271.6 884.1 2270C893.3 2268.4 896 2261.8 905.3 2260.2C914.6 2258.6 930.7 2257.9 940 2260.2C949.3 2262.5 952.9 2271.1 961.2 2273.8C969.5 2276.5 979.4 2274.9 990 2276.3C1000.6 2277.7 1015.4 2278.4 1024.7 2282.2C1034 2286 1038.8 2295.4 1045.8 2299.2C1052.8 2302.9 1058.7 2304 1067 2304.7C1075.3 2305.4 1085.9 2301.5 1095.8 2303.4C1105.7 2305.3 1115.5 2311.8 1126.2 2316C1136.9 2320.2 1150.1 2323.5 1160 2328.8C1169.9 2334.1 1178.3 2342 1185.5 2347.9C1192.7 2353.8 1196.2 2356.9 1203.3 2364C1210.3 2371.1 1218.8 2379.5 1227.8 2390.2C1236.8 2400.9 1247.6 2417.4 1257.5 2428.3C1267.4 2439.2 1278 2449.5 1287 2455.8C1296 2462.1 1298.2 2464.3 1311.6 2466C1325 2467.7 1349.4 2466 1367.5 2466C1385.6 2466 1411.6 2466 1420.4 2466" fill="none" stroke="#f00" stroke-width="4.5" stroke-linejoin="round"/>
<g fill="#f00"><path d="M321.7 2445.8H324.3L339.5 2475.6H306.5Z"/><path d="M396.7 2443.8H399.3L414.5 2473.6H381.5Z"/><path d="M491.3 2442.8H493.9L509.1 2472.6H476.1Z"/><path d="M581.7 2429.4H584.3L599.5 2459.2H566.5Z"/><path d="M676.3 2388.3H678.9L694.1 2418.1H661.1Z"/><path d="M779.1 2303.7H781.7L796.9 2333.5H763.9Z"/><path d="M882.8 2250.8H885.4L900.6 2280.6H867.6Z"/><path d="M988.7 2257.1H991.3L1006.5 2286.9H973.5Z"/><path d="M1094.5 2284.2H1097.1L1112.3 2314H1079.3Z"/><path d="M1202 2344.8H1204.6L1219.8 2374.6H1186.8Z"/><path d="M1310.3 2446.8H1312.9L1328.1 2476.6H1295.1Z"/><path d="M1419.1 2446.8H1421.7L1436.9 2476.6H1403.9Z"/></g>
<path d="M323 2466C334.6 2465.7 374.2 2464.3 392.3 2464C410.4 2463.7 418.4 2464 431.5 2464C444.5 2464 455.8 2464.7 470.6 2464C485.4 2463.3 504.8 2462.4 520.1 2460C535.4 2457.6 546.9 2453.4 562.4 2449.4C577.9 2445.4 597.1 2439.9 613.2 2436C629.3 2432.1 644.9 2429.2 659 2426.2C673.1 2423.1 688.6 2421.6 697.9 2417.7C707.2 2413.8 705.2 2408.3 714.8 2402.9C724.4 2397.5 739.9 2394.3 755.4 2385.1C770.9 2375.9 791.1 2356.4 808 2347.9C824.9 2339.4 842.9 2338.9 857 2334.3C871.1 2329.7 878.8 2322.6 892.6 2320.3C906.4 2318 928.7 2322.4 940 2320.3C951.3 2318.2 951.8 2310.9 960.3 2307.6C968.8 2304.3 982.2 2301.2 990.8 2300.5C999.4 2299.8 1005.3 2305.4 1012 2303.4C1018.7 2301.4 1025.4 2295.3 1031 2288.6C1036.6 2281.9 1039.7 2271 1045.8 2263.2C1051.9 2255.4 1060 2246.6 1067.8 2242C1075.6 2237.4 1084.1 2239.9 1092.4 2235.7C1100.7 2231.5 1108.6 2220.7 1117.8 2216.6C1127 2212.5 1137.9 2210.7 1147.4 2211.1C1156.9 2211.5 1165.8 2213.7 1175 2218.8C1184.2 2224 1192.2 2229 1202.4 2242C1212.6 2255 1226.8 2281.9 1236.3 2297C1245.8 2312.1 1251.8 2320.6 1259.6 2332.4C1267.4 2344.2 1274.8 2354.7 1282.9 2367.8C1291 2381 1299.8 2398.8 1308.3 2411.3C1316.8 2423.8 1324.5 2434.9 1333.7 2443C1342.9 2451.1 1353.6 2456.2 1363.3 2460C1373 2463.8 1378.2 2465 1392 2466C1405.8 2467 1428.3 2466 1446.4 2466C1464.5 2466 1491.7 2466 1500.8 2466" fill="none" stroke="#000" stroke-width="4.5" stroke-linejoin="round"/>
<g fill="#000"><ellipse cx="321.5" cy="2466" rx="14.3" ry="14.3"/><ellipse cx="392.3" cy="2464" rx="14.3" ry="14.3"/><ellipse cx="470.6" cy="2464" rx="14.3" ry="14.3"/><ellipse cx="562.4" cy="2449.4" rx="14.3" ry="14.3"/><ellipse cx="659" cy="2426.2" rx="14.3" ry="14.3"/><ellipse cx="755.4" cy="2385.1" rx="14.3" ry="14.3"/><ellipse cx="857" cy="2334.3" rx="14.3" ry="14.3"/><ellipse cx="960.3" cy="2307.6" rx="14.3" ry="14.3"/><ellipse cx="1067.8" cy="2242" rx="14.3" ry="14.3"/><ellipse cx="1175" cy="2218.8" rx="14.3" ry="14.3"/><ellipse cx="1282.9" cy="2367.8" rx="14.3" ry="14.3"/><ellipse cx="1393" cy="2466" rx="14.3" ry="14.3"/><ellipse cx="1500.8" cy="2466" rx="14.3" ry="14.3"/></g>
<path d="M323 2463.6C332.1 2463.6 373.3 2463.6 391.6 2463.6C409.8 2463.5 441.8 2463.5 460.1 2463.5C478.4 2463.5 510.4 2463.5 528.7 2463.5C546.9 2463.5 578.9 2463.4 597.2 2463.4C615.5 2463.4 647.5 2463.4 665.8 2463.4C684.1 2463.4 716.1 2463.3 734.3 2463.3C752.6 2463.3 784.6 2463.3 802.9 2463.3C821.2 2463.3 853.2 2463.3 871.4 2463.2C889.7 2463.2 925.2 2463.4 940 2463.2C954.8 2463 971.1 2462 982.4 2461.6C993.6 2461.2 1013.4 2460.4 1024.7 2460C1036 2459.6 1055.7 2458.9 1067 2458.5C1078.3 2458.1 1094.6 2457.9 1109.3 2457C1124 2456.1 1163.4 2453.1 1177 2451.6C1190.6 2450.1 1202.3 2448 1211 2446C1219.7 2444 1234.1 2439.3 1242.6 2436.7C1251.1 2434.1 1266.8 2430.4 1274.4 2426.2C1282 2422 1293 2410.4 1299.8 2405C1306.6 2399.6 1318.7 2391.6 1325.2 2386C1331.7 2380.4 1342.9 2369.8 1348.5 2362.7C1354.1 2355.6 1362.7 2343.4 1367.5 2333C1372.3 2322.6 1379.9 2296.8 1384.4 2284.4C1388.9 2272 1397.5 2249.9 1401.4 2240C1405.3 2230.1 1410.1 2218.2 1414 2210.3C1417.9 2202.4 1425.9 2190.6 1431 2180.7C1436.1 2170.8 1447.4 2146.4 1452.2 2136.2C1457 2126 1463.6 2113 1467 2104.5C1470.4 2096 1474.5 2078.4 1477.6 2072.7C1480.7 2067 1486.6 2064.3 1490.3 2062C1494 2059.7 1499.4 2054.8 1505 2055.8C1510.6 2056.8 1526.4 2067.7 1532.6 2069.3C1538.8 2070.9 1549.1 2067.8 1551.6 2067.6" fill="none" stroke="#808080" stroke-width="6.6" stroke-dasharray="7 9.5" stroke-dashoffset="4.7"/>
</g>
<g font-size="64">
<text x="296.5" y="696.1" text-anchor="end">0</text>
<text x="296.5" y="517.5" text-anchor="end">400</text>
<text x="296.5" y="338.9" text-anchor="end">800</text>
<text x="296.5" y="1143" text-anchor="end">0</text>
<text x="296.5" y="964.2" text-anchor="end">400</text>
<text x="296.5" y="785.4" text-anchor="end">800</text>
<text x="296.5" y="1590.6" text-anchor="end">0</text>
<text x="296.5" y="1418.8" text-anchor="end">100</text>
<text x="296.5" y="1247" text-anchor="end">200</text>
<text x="296.5" y="2038" text-anchor="end">0</text>
<text x="296.5" y="1852.4" text-anchor="end">250</text>
<text x="296.5" y="1666.8" text-anchor="end">500</text>
<text x="296.5" y="2484.6" text-anchor="end">0</text>
<text x="296.5" y="2322.6" text-anchor="end">40</text>
<text x="296.5" y="2160.6" text-anchor="end">80</text>
<text x="323.6" y="2541.5" text-anchor="middle">100</text>
<text x="631.1" y="2541.5" text-anchor="middle">200</text>
<text x="939.6" y="2541.5" text-anchor="middle">300</text>
<text x="1248.1" y="2541.5" text-anchor="middle">400</text>
<text x="1556.6" y="2541.5" text-anchor="middle">500</text>
</g>
<g font-size="64">
<text x="373.2" y="505.7">MT</text>
<text x="385.9" y="807.5">SO<tspan font-size="43" dy="17.5" dx="1">2</tspan></text>
<text x="372.8" y="1244.7">DMDS</text>
<text x="394.9" y="1692">FO</text>
<text x="379.3" y="2150.1">MeOH</text>
</g>
<text x="940" y="2649.5" font-size="70" text-anchor="middle">T (°C)</text>
<text transform="translate(131 1287) rotate(-90)" font-size="70" text-anchor="middle">Concentration (ppm)</text>
<g>
<path d="M316 91H374M405 91H462" stroke="#000" stroke-width="5.6"/><ellipse cx="388" cy="91" rx="14.6" ry="14"/>
<text x="476" y="112.5" font-size="64">CoAl</text>
<path d="M645.7 91H703M735.6 91H793" stroke="#f00" stroke-width="5.6"/><g fill="#f00"><path d="M718 71.8H720.6L735.8 101.6H702.8Z"/></g>
<text x="807.5" y="112.5" font-size="64">CoAlCe</text>
<path d="M1057.5 91H1198" fill="none" stroke="#808080" stroke-width="6.6" stroke-dasharray="7 9.5"/>
<text x="1219.5" y="112.5" font-size="64">Thermal</text>
</g>
</svg></body></html>
